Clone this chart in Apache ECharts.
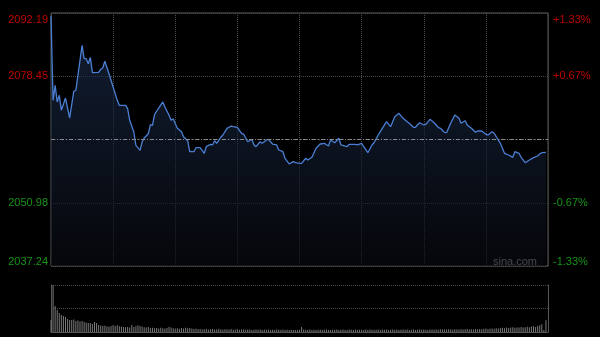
<!DOCTYPE html>
<html><head><meta charset="utf-8">
<script src="https://cdn.jsdelivr.net/npm/echarts@6/dist/echarts.min.js"></script>
<style>html,body{margin:0;padding:0;background:#000}#c{width:600px;height:337px}</style>
</head><body><div id="c"></div>
<script>
const prevClose = 2064.71;
const priceHigh = 2092.19;
const priceTicks = ['2037.24', '2050.98', '', '2078.45', '2092.19'];
const pctTicks = ['-1.33%', '-0.67%', '', '+0.67%', '+1.33%'];
const watermark = 'sina.com';

const minutes = [0,1,2,3,4,5,7,9,11,12,
15,16,17,18,19,20,23,24,25,26,
28,30,32,33,36,37,38,40,41,43,
44,45,47,48,49,50,52,54,55,57,
58,59,61,63,64,66,67,69,70,72,
74,75,77,78,79,80,82,83,85,87,
88,90,92,93,95,97,98,99,101,102,
104,105,107,109,110,112,113,115,117,118,
120,121,123,124,126,128,130,132,134,135,
137,139,140,143,144,147,148,150,151,153,
155,156,158,160,162,164,166,168,170,172,
173,175,176,178,180,181,183,185,187,188,
190,191,193,195,197,198,200,201,203,205,
206,208,210,211,213,214,215,217,219,221,
223,224,226,227,229,231,233,235,236,237,
239];

const prices = [2091.50,2073.22,2076.48,2072.86,2074.31,2071.05,2073.72,2069.38,2075.18,2075.40,
2085.17,2082.26,2082.26,2081.17,2082.56,2079.22,2079.30,2079.96,2080.24,2081.70,
2079.00,2076.11,2073.22,2072.14,2072.14,2071.40,2068.88,2066.34,2063.45,2062.36,
2064.17,2065.04,2065.97,2067.92,2067.79,2070.10,2071.55,2072.86,2071.77,2069.97,
2068.88,2069.23,2067.14,2066.40,2065.32,2064.45,2062.06,2062.06,2062.93,2062.93,
2061.71,2063.15,2063.67,2063.52,2064.45,2063.88,2065.19,2065.69,2067.14,2067.64,
2067.49,2067.36,2066.06,2065.90,2064.23,2064.75,2063.52,2063.15,2064.23,2063.88,
2064.60,2064.75,2063.73,2063.52,2062.43,2062.06,2060.63,2059.39,2059.89,2059.67,
2059.54,2059.54,2060.63,2060.26,2060.84,2062.80,2063.73,2063.88,2063.30,2064.60,
2064.01,2064.97,2063.52,2063.15,2063.67,2063.67,2063.52,2063.88,2063.15,2061.84,
2063.52,2064.01,2065.69,2067.14,2068.58,2067.49,2069.66,2070.40,2069.31,2068.58,
2068.23,2067.36,2067.36,2068.36,2067.86,2068.01,2069.10,2068.36,2067.36,2067.14,
2066.27,2066.19,2068.23,2070.03,2069.31,2068.23,2068.79,2067.86,2067.14,2066.27,
2066.56,2066.56,2065.84,2065.69,2066.40,2066.06,2065.32,2063.88,2061.71,2061.34,
2060.84,2062.06,2061.71,2060.84,2059.67,2060.26,2060.76,2061.13,2061.56,2061.84,
2061.93];

const volumes = [120,470,260,220,190,170,160,150,130,120,
120,125,110,115,105,110,100,95,90,90,
80,100,90,70,65,60,62,58,52,60,
70,60,68,58,55,50,48,50,46,70,
50,58,68,60,55,48,45,50,40,42,
38,40,36,42,38,35,40,50,45,38,
35,38,32,40,36,42,38,40,35,30,
32,28,30,26,28,30,25,27,30,24,
26,30,25,22,28,26,24,30,22,25,
27,23,25,28,22,24,26,21,23,25,
22,26,20,24,22,25,20,23,21,24,
22,20,24,21,23,20,22,19,21,20,
22,50,25,22,20,24,21,23,20,22,
24,20,22,25,21,20,23,22,26,20,
22,24,21,20,25,22,21,24,20,23,
22,20,25,21,24,22,20,23,25,21,
24,22,26,20,23,25,22,24,21,23,
25,22,24,20,22,26,21,23,24,22,
25,23,21,24,26,22,25,23,27,24,
26,24,28,25,23,27,26,24,28,25,
27,30,26,28,25,29,27,30,28,32,
35,30,33,36,32,38,35,40,42,38,
45,40,44,48,42,46,44,50,45,48,
52,48,55,58,50,60,67,77,20,117];

const half = +(priceHigh - prevClose).toFixed(2);
const step = half / 2;
const FONT = "'Liberation Sans',Arial,sans-serif";
const RED = '#c00000', GREEN = '#189418';

const lineData = minutes.map((m, i) => [m, prices[i] - prevClose]);
const volData = volumes.map((v, i) => [i, v]);

function labelFmt(list) {
  return function (v) {
    const i = Math.round(v / step) + 2;
    const t = list[i];
    if (!t) return '';
    const key = i === 4 ? 'upTop' : i === 3 ? 'up' : i === 1 ? 'down' : 'downBot';
    return '{' + key + '|' + t + '}';
  };
}
const rich = {
  upTop: { color: RED, fontSize: 11, fontFamily: FONT, padding: [14, 0, 0, 0] },
  up: { color: RED, fontSize: 11, fontFamily: FONT },
  down: { color: GREEN, fontSize: 11, fontFamily: FONT },
  downBot: { color: GREEN, fontSize: 11, fontFamily: FONT, padding: [0, 0, 9, 0] }
};

const chart = echarts.init(document.getElementById('c'), null, { renderer: 'canvas' });
chart.setOption({
  backgroundColor: '#000',
  animation: false,
  grid: [
    { left: 51, right: 52, top: 13, height: 253, show: true, borderColor: '#5a5a5a', borderWidth: 1, backgroundColor: 'transparent' },
    { left: 51, right: 52, top: 285, height: 47, show: false }
  ],
  xAxis: [
    { gridIndex: 0, type: 'value', min: 0, max: 240, interval: 30,
      axisLine: { show: false }, axisTick: { show: false }, axisLabel: { show: false },
      splitLine: { show: true, lineStyle: { color: '#4a4a4a', type: [1, 1], width: 1 } } },
    { gridIndex: 1, type: 'value', min: 0, max: 240, interval: 30,
      axisLine: { show: true, onZero: false, lineStyle: { color: '#555' } }, axisTick: { show: false },
      axisLabel: { show: false }, splitLine: { show: false } }
  ],
  yAxis: [
    { gridIndex: 0, type: 'value', min: -half, max: half, interval: step, position: 'left',
      axisLine: { show: false }, axisTick: { show: false },
      axisLabel: { margin: 3, formatter: labelFmt(priceTicks), rich: rich },
      splitLine: { show: true, lineStyle: { color: '#4a4a4a', type: [1, 1], width: 1 } } },
    { gridIndex: 0, type: 'value', min: -half, max: half, interval: step, position: 'right',
      axisLine: { show: false }, axisTick: { show: false },
      axisLabel: { margin: 5, formatter: labelFmt(pctTicks), rich: rich },
      splitLine: { show: false } },
    { gridIndex: 1, type: 'value', min: 0, max: 470, interval: 235, position: 'left',
      axisLine: { show: true, lineStyle: { color: '#555' } }, axisTick: { show: false },
      axisLabel: { show: false },
      splitLine: { show: true, lineStyle: { color: '#4a4a4a', type: [1, 1], width: 1 } } },
    { gridIndex: 1, type: 'value', min: 0, max: 470, interval: 235, position: 'right',
      axisLine: { show: true, lineStyle: { color: '#555' } }, axisTick: { show: false },
      axisLabel: { show: false }, splitLine: { show: false } }
  ],
  series: [
    { type: 'line', xAxisIndex: 0, yAxisIndex: 0, data: lineData, showSymbol: false, symbol: 'none',
      lineStyle: { color: '#4a7fd4', width: 1.3 },
      areaStyle: { origin: 'start', color: new echarts.graphic.LinearGradient(0, 0, 0, 1, [
        { offset: 0, color: 'rgba(30,50,85,0.85)' }, { offset: 1, color: 'rgba(8,10,16,0.9)' }]) },
      markLine: { silent: true, symbol: 'none', label: { show: false },
        lineStyle: { color: '#8a8a8a', type: [4, 2, 1, 2], width: 1 },
        data: [{ yAxis: 0 }] } },
    { type: 'bar', xAxisIndex: 1, yAxisIndex: 2, data: volData, barWidth: 1,
      itemStyle: { color: '#7a7a7a' } }
  ],
  graphic: [
    { type: 'text', right: 63, top: 256, style: { text: watermark, fill: '#aaaaaa', font: '11px ' + FONT } }
  ]
});
</script></body></html>
